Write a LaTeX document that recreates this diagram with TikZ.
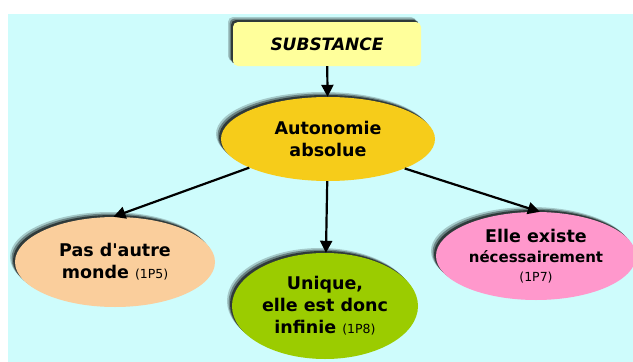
\documentclass[tikz,border=0pt]{standalone}
\usepackage{fontspec}
\setmainfont{DejaVu Sans}
\usetikzlibrary{shapes.geometric,shadows,arrows.meta}
\definecolor{bgcyan}{RGB}{206,252,252}
\definecolor{paleyellow}{RGB}{255,255,155}
\definecolor{gold}{RGB}{246,204,26}
\definecolor{peach}{RGB}{250,206,156}
\definecolor{leaf}{RGB}{155,204,0}
\definecolor{rose}{RGB}{255,152,204}
\newcommand{\refnote}[1]{{\mdseries\fontsize{12.5}{14}\selectfont #1}}
\begin{document}
\begin{tikzpicture}[x=1pt, y=-1pt,
  halo/.style={general shadow={shadow xshift=-5pt, shadow yshift=5pt, fill=black, opacity=.2},
               general shadow={shadow xshift=-3.5pt, shadow yshift=3.5pt, fill=black, opacity=.35},
               general shadow={shadow xshift=-2pt, shadow yshift=2pt, fill=black, opacity=.55}},
  bubble/.style={ellipse, halo, inner sep=0pt, align=center, font=\bfseries\fontsize{17.5}{22}\selectfont},
  link/.style={-{Triangle[width=12pt,length=12pt]}, line width=2.2pt}]
\useasboundingbox (0,0) rectangle (633,362);
\fill[white] (0,0) rectangle (633,362);
\fill[bgcyan] (8,14) rectangle (633,362);
% the root
\node[halo, fill=paleyellow, rounded corners=5pt, minimum width=188pt, minimum height=44pt,
  font=\bfseries\itshape\fontsize{17}{20}\selectfont] (subst) at (327,44) {SUBSTANCE};
\node[bubble, fill=gold, minimum width=214pt, minimum height=84pt] (auto) at (328,139)
  {Autonomie\\absolue};
% three consequences
\node[bubble, fill=peach, minimum width=200pt, minimum height=90pt] (monde) at (115,262)
  {Pas d\textquotesingle autre\\monde \refnote{(1P5)}};
\node[bubble, fill=leaf, minimum width=186pt, minimum height=106pt] (unique) at (325,306)
  {Unique,\\elle est donc\\infinie \refnote{(1P8)}};
\node[bubble, fill=rose, minimum width=200pt, minimum height=88pt] (existe) at (536,256)
  {Elle existe\\[-2pt]{\fontsize{15}{19}\selectfont nécessairement}\\[-3pt]\refnote{(1P7)}};
\draw[link] (subst) -- (auto);
\draw[link] (auto.-160) -- (monde.92);
\draw[link] (auto) -- (unique);
\draw[link] (auto.-21) -- (existe.85);
\end{tikzpicture}
\end{document}
